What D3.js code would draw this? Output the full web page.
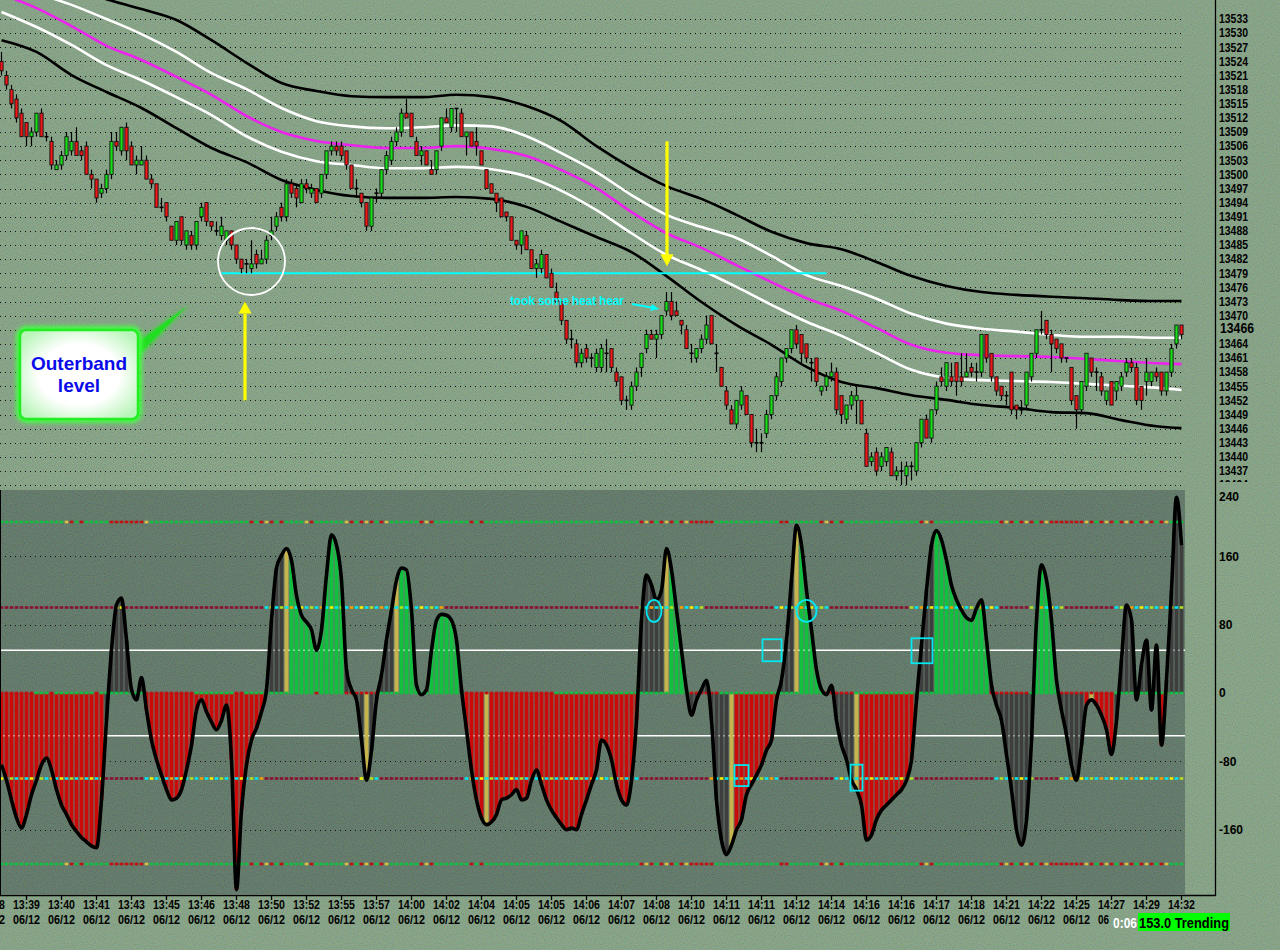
<!DOCTYPE html>
<html><head><meta charset="utf-8">
<script src="https://cdn.jsdelivr.net/npm/d3@7"></script>
<style>html,body{margin:0;padding:0;background:#7b9c7e;} svg{display:block}</style>
</head><body>
<svg id="chart" width="1280" height="950"></svg>
<script>
// ---------------- DATA ----------------
// candles: [open, high, low, close]
const candles = [
[13524,13526,13521,13522],[13521,13522,13518,13519],[13518,13519,13514,13515],[13516,13517,13511,13512],[13513,13514,13508,13508],
[13511,13511,13506,13508],[13508,13510,13506,13509],[13509,13513,13508,13513],[13513,13514,13508,13508],[13508,13509,13507,13508],
[13507,13508,13501,13502],[13501,13503,13501,13502],[13502,13505,13501,13504],[13504,13509,13503,13508],[13505,13509,13504,13507],
[13507,13510,13504,13504],[13505,13506,13503,13504],[13506,13507,13500,13500],[13500,13501,13497,13499],[13499,13499,13494,13495],
[13496,13498,13495,13497],[13497,13501,13496,13500],[13500,13509,13499,13507],[13507,13509,13505,13506],[13505,13510,13504,13510],
[13510,13511,13503,13505],[13506,13507,13502,13502],[13502,13504,13500,13503],[13502,13506,13502,13503],[13503,13504,13499,13499],
[13499,13500,13497,13498],[13498,13498,13493,13493],[13493,13495,13492,13493],[13494,13494,13490,13491],[13489,13489,13486,13486],
[13486,13490,13485,13490],[13491,13491,13485,13486],[13485,13488,13484,13488],[13487,13488,13484,13485],[13485,13490,13484,13490],
[13491,13494,13490,13493],[13494,13494,13489,13490],[13490,13490,13488,13489],[13488,13490,13487,13488],[13487,13491,13486,13489],
[13486,13488,13485,13488],[13488,13488,13484,13485],[13485,13485,13481,13482],[13482,13482,13479,13480],[13481,13482,13479,13481],
[13480,13486,13479,13481],[13483,13484,13480,13481],[13481,13484,13481,13482],[13482,13487,13481,13486],[13487,13491,13486,13488],
[13489,13492,13488,13491],[13493,13494,13490,13491],[13491,13499,13490,13498],[13498,13499,13495,13496],[13497,13498,13493,13495],
[13494,13499,13494,13498],[13498,13499,13496,13497],[13496,13498,13495,13497],[13497,13497,13494,13494],[13496,13500,13495,13500],
[13500,13505,13499,13505],[13505,13507,13504,13506],[13506,13507,13504,13505],[13506,13507,13503,13504],[13505,13505,13501,13502],
[13502,13502,13497,13497],[13497,13499,13495,13497],[13496,13496,13493,13494],[13494,13494,13488,13489],[13489,13495,13488,13495],
[13496,13497,13494,13496],[13496,13501,13495,13501],[13501,13505,13500,13504],[13503,13508,13502,13507],[13507,13510,13506,13509],
[13509,13514,13508,13513],[13513,13516,13512,13512],[13513,13513,13508,13508],[13507,13508,13504,13504],[13504,13506,13502,13505],
[13505,13505,13502,13502],[13501,13503,13500,13500],[13501,13505,13500,13505],[13506,13512,13505,13512],[13512,13514,13511,13511],
[13510,13514,13509,13514],[13514,13514,13509,13514],[13513,13514,13508,13508],[13508,13509,13504,13509],[13509,13509,13506,13506],
[13507,13510,13504,13506],[13505,13505,13502,13502],[13501,13501,13497,13497],[13498,13498,13496,13496],[13496,13496,13492,13494],
[13495,13495,13491,13491],[13492,13492,13490,13491],[13491,13491,13486,13486],[13486,13486,13484,13485],[13485,13488,13483,13488],
[13487,13488,13484,13484],[13484,13484,13480,13480],[13480,13482,13478,13481],[13480,13484,13479,13483],[13483,13483,13478,13478],
[13479,13480,13476,13476],[13475,13477,13473,13473],[13473,13473,13468,13469],[13469,13469,13464,13465],[13465,13467,13463,13465],
[13464,13465,13459,13460],[13460,13463,13459,13462],[13463,13464,13460,13461],[13461,13462,13459,13461],[13459,13463,13458,13462],
[13459,13464,13458,13463],[13462,13465,13458,13462],[13463,13463,13458,13459],[13458,13459,13455,13456],[13457,13457,13451,13452],
[13452,13453,13450,13452],[13451,13456,13450,13455],[13455,13459,13454,13458],[13459,13462,13457,13462],[13463,13467,13462,13466],
[13466,13467,13465,13465],[13465,13467,13461,13466],[13466,13470,13465,13470],[13471,13475,13470,13473],[13473,13475,13469,13470],
[13471,13473,13470,13470],[13469,13469,13466,13468],[13467,13468,13463,13463],[13462,13464,13460,13462],[13461,13463,13460,13463],
[13463,13466,13462,13465],[13465,13470,13464,13468],[13470,13470,13464,13464],[13462,13464,13458,13462],[13459,13459,13455,13455],
[13454,13455,13450,13451],[13450,13451,13447,13447],[13447,13452,13446,13452],[13451,13455,13450,13454],[13453,13453,13449,13449],
[13449,13449,13442,13443],[13443,13446,13441,13443],[13443,13445,13441,13443],[13445,13450,13444,13449],[13449,13453,13448,13453],
[13453,13458,13452,13457],[13456,13461,13455,13461],[13461,13463,13460,13463],[13463,13467,13462,13467],[13467,13468,13463,13464],
[13466,13466,13460,13462],[13464,13464,13460,13461],[13460,13461,13456,13460],[13461,13461,13455,13456],[13454,13455,13453,13455],
[13455,13458,13454,13457],[13457,13460,13456,13458],[13458,13459,13449,13450],[13453,13453,13447,13449],[13448,13451,13447,13451],
[13451,13454,13450,13453],[13452,13455,13447,13453],[13452,13452,13447,13447],[13445,13446,13438,13438],[13439,13441,13438,13440],
[13441,13442,13436,13437],[13438,13441,13437,13440],[13439,13442,13438,13442],[13441,13442,13436,13436],[13436,13438,13435,13437],
[13437,13439,13434,13437],[13436,13439,13434,13438],[13438,13439,13435,13438],[13437,13443,13436,13443],[13443,13448,13442,13448],
[13448,13449,13444,13444],[13444,13450,13443,13450],[13450,13456,13449,13455],[13457,13459,13455,13456],[13455,13460,13454,13460],
[13457,13460,13455,13456],[13460,13460,13453,13456],[13457,13462,13455,13456],[13457,13462,13457,13458],[13459,13460,13457,13458],
[13458,13460,13456,13458],[13458,13466,13457,13466],[13466,13466,13460,13461],[13462,13462,13456,13457],[13457,13457,13453,13454],
[13455,13455,13452,13453],[13453,13454,13451,13453],[13458,13458,13449,13450],[13451,13451,13448,13450],[13450,13452,13449,13450],
[13451,13458,13450,13458],[13457,13462,13456,13462],[13462,13467,13461,13467],[13467,13471,13466,13467],[13469,13469,13465,13466],
[13466,13467,13458,13464],[13465,13465,13462,13463],[13464,13464,13460,13461],[13461,13461,13460,13461],[13459,13459,13451,13452],
[13453,13453,13446,13450],[13450,13456,13449,13456],[13455,13462,13454,13462],[13461,13461,13457,13458],[13458,13459,13454,13458],
[13457,13458,13453,13454],[13452,13454,13451,13454],[13456,13456,13451,13451],[13454,13456,13452,13456],[13455,13458,13454,13457],
[13458,13461,13457,13460],[13460,13461,13458,13459],[13459,13460,13451,13452],[13455,13455,13450,13452],[13456,13461,13453,13458],
[13456,13458,13455,13458],[13458,13459,13456,13457],[13458,13458,13453,13454],[13454,13458,13453,13458],[13458,13464,13457,13463],
[13464,13468,13463,13468],[13468,13468,13465,13466]
];

// envelope bands sampled every 7 bars (plus last bar)
const bandBars = [0,7,14,21,28,35,42,49,56,63,70,77,84,91,98,105,112,119,126,133,140,147,154,161,168,175,182,189,196,203,210,217,224,231,236];
const upperOuter = [13545.5,13542.3,13539.6,13537.2,13535.1,13532.8,13528.5,13523.7,13519.4,13517.7,13516.6,13516.4,13516.4,13516.9,13516.4,13514.5,13511.3,13506.0,13501.4,13497.5,13494.8,13491.4,13487.8,13485.4,13484.1,13481.4,13478.4,13476.3,13475.0,13474.4,13474.0,13473.7,13473.3,13473.1,13473.1];
const upperInner = [13541.3,13538.5,13536.0,13533.0,13529.8,13526.0,13521.5,13518.1,13514.1,13511.3,13510.2,13509.8,13510.0,13510.4,13510.2,13508.1,13504.5,13500.5,13495.6,13491.4,13488.8,13486.5,13482.7,13478.6,13476.3,13473.6,13470.4,13468.3,13467.2,13466.6,13465.9,13465.5,13465.5,13465.3,13465.3];
const middleBand = [13538.3,13535.3,13531.5,13527.3,13524.3,13520.7,13516.9,13512.4,13509.0,13507.1,13506.2,13505.6,13505.6,13506.0,13505.4,13503.9,13500.9,13497.1,13492.0,13487.5,13484.4,13480.7,13477.1,13473.7,13471.0,13467.4,13463.8,13462.1,13461.6,13461.4,13461.2,13460.8,13460.3,13459.9,13459.7];
const lowerInner = [13534.5,13531.3,13527.5,13523.2,13520.0,13516.4,13512.6,13508.1,13504.8,13502.8,13502.0,13501.3,13501.3,13501.6,13501.1,13499.6,13496.5,13492.4,13487.5,13482.9,13479.7,13476.1,13472.3,13468.7,13465.7,13462.1,13458.5,13456.8,13456.3,13456.1,13455.9,13455.5,13455.1,13454.7,13454.2];
const lowerOuter = [13528.5,13526.0,13521.1,13517.5,13514.1,13509.8,13505.6,13502.6,13498.8,13496.7,13495.4,13495.0,13495.0,13495.2,13494.8,13493.1,13489.9,13486.7,13483.5,13478.4,13472.9,13468.0,13463.8,13459.1,13455.9,13454.6,13453.1,13452.1,13451.0,13450.4,13449.5,13449.3,13447.8,13446.5,13446.1];

// CCI oscillator, one value per bar
const cci = [
-84,-102,-125,-146,-158,-142,-119,-102,-84,-76,-90,-113,-131,-142,-154,-162,-169,-174,-179,-181,
-125,-32,50,103,111,62,4,-8,18,-20,-55,-78,-96,-113,-125,-123,-113,-90,-61,-20,
-8,-22,-34,-43,-32,-14,-78,-230,-137,-84,-55,-41,-22,4,85,146,161,169,155,114,
91,83,74,50,74,138,185,173,132,27,4,-8,-55,-102,-67,-8,21,62,97,132,
146,144,97,9,-2,4,50,85,92,91,85,62,4,-43,-90,-125,-146,-154,-151,-142,
-125,-123,-119,-113,-125,-123,-102,-90,-107,-125,-137,-146,-154,-160,-158,-160,-142,-125,-107,-90,
-55,-61,-78,-107,-125,-131,-102,-32,85,138,126,109,120,169,144,97,50,4,-26,-8,
4,15,-32,-125,-172,-189,-178,-160,-148,-119,-107,-96,-84,-67,-55,-8,15,62,132,196,
173,120,74,27,4,-2,9,-32,-61,-78,-102,-113,-131,-172,-166,-148,-137,-131,-125,-119,
-113,-102,-78,-8,56,120,173,190,179,155,126,109,97,88,85,99,109,62,9,-14,
-32,-72,-113,-160,-178,-148,-55,85,150,132,85,15,-20,-49,-84,-102,-61,-14,-8,-14,
-26,-43,-72,-32,39,103,85,-8,33,62,-20,56,-61,15,120,229,173
];
// histogram colour runs: r=red, g=green, k=grey, y=khaki
const histRuns = [[21,'r'],[8,'k'],[24,'r'],[4,'k'],[1,'y'],[11,'g'],[4,'k'],[1,'y'],[5,'k'],[1,'y'],[4,'g'],[2,'k'],[6,'g'],[1,'k'],[4,'r'],[1,'y'],[30,'r'],[5,'k'],[1,'y'],[4,'g'],[8,'k'],[1,'y'],[9,'r'],[3,'k'],[1,'y'],[5,'g'],[6,'k'],[1,'y'],[11,'r'],[4,'k'],[11,'g'],[9,'k'],[5,'g'],[5,'k'],[1,'r'],[1,'y'],[4,'r'],[9,'k'],[1,'r'],[4,'k']];
// +/-200 level marker runs: g=green, r=red, m=red/yellow mix, y=yellow
const lvl200Runs = [[13,'g'],[4,'m'],[5,'g'],[7,'r'],[1,'y'],[20,'g'],[7,'m'],[4,'g'],[3,'m'],[5,'g'],[9,'m'],[6,'g'],[4,'m'],[6,'g'],[3,'m'],[31,'g'],[10,'m'],[5,'r'],[13,'g'],[2,'r'],[5,'g'],[6,'m'],[15,'g'],[3,'m'],[12,'g'],[11,'m'],[7,'r'],[17,'m'],[3,'g']];
// +100 / -100 level marker runs: m=maroon, y=yellow, x=yellow/cyan mix
const lvl100Runs = [[23,'m'],[2,'y'],[28,'m'],[36,'x'],[39,'m'],[13,'x'],[14,'m'],[11,'x'],[16,'m'],[18,'x'],[6,'m'],[7,'x'],[10,'m'],[14,'x']];
const lvlM100Runs = [[21,'x'],[8,'m'],[24,'x'],[19,'m'],[4,'x'],[17,'m'],[35,'x'],[14,'m'],[14,'x'],[11,'m'],[16,'x'],[16,'m'],[8,'x'],[5,'m'],[25,'x']];
// zero line marker runs
const zeroRuns = [[7,'r'],[3,'g'],[1,'r'],[8,'g'],[1,'r'],[9,'g'],[10,'r'],[8,'g'],[2,'r'],[4,'g'],[10,'g'],[1,'r'],[5,'g'],[7,'r'],[17,'g'],[18,'r'],[17,'g'],[10,'g'],[6,'r'],[12,'g'],[9,'g'],[6,'r'],[12,'g'],[15,'g'],[8,'r'],[6,'g'],[11,'r'],[14,'g']];

// axis labels
const priceTicks = [13434,13437,13440,13443,13446,13449,13452,13455,13458,13461,13464,13470,13473,13476,13479,13482,13485,13488,13491,13494,13497,13500,13503,13506,13509,13512,13515,13518,13521,13524,13527,13530,13533];
const lastPriceLabel = "13466";
const cciTicks = [240,160,80,0,-80,-160];
const timeTickBars = [-2,5,12,19,26,33,40,47,54,61,68,75,82,89,96,103,110,117,124,131,138,145,152,159,166,173,180,187,194,201,208,215,222,229,236];
const timeLabels = ["13:38","13:39","13:40","13:41","13:43","13:45","13:46","13:48","13:50","13:52","13:55","13:57","14:00","14:02","14:04","14:05","14:05","14:06","14:07","14:08","14:10","14:11","14:11","14:12","14:14","14:16","14:16","14:17","14:18","14:21","14:22","14:25","14:27","14:29","14:32"];
// date row (the last ones are hidden behind the status readout)
const dateLabels = ["06/12","06/12","06/12","06/12","06/12","06/12","06/12","06/12","06/12","06/12","06/12","06/12","06/12","06/12","06/12","06/12","06/12","06/12","06/12","06/12","06/12","06/12","06/12","06/12","06/12","06/12","06/12","06/12","06/12","06/12","06/12","06/12","06","",""];
const supportLevel = 13479;     // cyan horizontal line
const supportFrom = 44, supportTo = 165;
const noteText = "took some heat hear";
const calloutLines = ["Outerband","level"];
const statusTime = "0:06";
const statusText = "153.0 Trending";

// ---------------- DRAW ----------------
const svg = d3.select("#chart");
const W = 1280, H = 950;
const FONT = "'Liberation Sans', Arial, sans-serif";
const expand = runs => runs.flatMap(([n,c]) => Array(n).fill(c));

const x = d3.scaleLinear().domain([0, 236]).range([1.5, 1181.5]);
const y = d3.scaleLinear().domain([13437, 13533]).range([471, 19]);
const yc = d3.scaleLinear().domain([-200, 200]).range([864, 522]);

const defs = svg.append("defs");
defs.append("clipPath").attr("id","clipTop").append("rect").attr("x",0).attr("y",0).attr("width",1186).attr("height",487);
defs.append("clipPath").attr("id","clipBot").append("rect").attr("x",0).attr("y",490).attr("width",1186).attr("height",404);
defs.append("clipPath").attr("id","clipAxis").append("rect").attr("x",1216).attr("y",0).attr("width",64).attr("height",482);
const grain = defs.append("filter").attr("id","grain").attr("x",0).attr("y",0).attr("width","100%").attr("height","100%");
grain.append("feTurbulence").attr("type","fractalNoise").attr("baseFrequency",0.9).attr("numOctaves",1).attr("seed",4);
grain.append("feColorMatrix").attr("type","matrix")
  .attr("values","1.3 0 0 0 -0.2  0 1.3 0 0 -0.15  0 0 1.3 0 -0.25  0 0 0 0 0.22");
const glow = defs.append("filter").attr("id","glow").attr("x","-20%").attr("y","-20%").attr("width","140%").attr("height","140%");
glow.append("feGaussianBlur").attr("stdDeviation",2.2);
const rg = defs.append("radialGradient").attr("id","boxFill").attr("cx","50%").attr("cy","50%").attr("r","62%");
rg.append("stop").attr("offset","55%").attr("stop-color","#ffffff");
rg.append("stop").attr("offset","100%").attr("stop-color","#b8f5b8");

// backgrounds
svg.append("rect").attr("width",W).attr("height",H).attr("fill","#7b9c7e");
svg.append("rect").attr("x",0).attr("y",490).attr("width",1185).attr("height",404).attr("fill","#4f695b");
svg.append("rect").attr("width",W).attr("height",H).attr("filter","url(#grain)");

// ---- upper panel ----
const upper = svg.append("g").attr("clip-path","url(#clipTop)");
upper.selectAll("line.grid").data(priceTicks.concat([13467])).join("line")
  .attr("x1",0).attr("x2",1185).attr("y1",d=>Math.round(y(d))+0.5).attr("y2",d=>Math.round(y(d))+0.5)
  .attr("stroke","#111").attr("stroke-width",1).attr("stroke-dasharray","1,4");

const bandLine = d3.line().x((d,i)=>x(bandBars[i])).y(d=>y(d)).curve(d3.curveMonotoneX);
[[upperOuter,"#000"],[lowerOuter,"#000"],[upperInner,"#fff"],[lowerInner,"#fff"],[middleBand,"#ee22ee"]].forEach(([arr,col])=>{
  upper.append("path").attr("d",bandLine(arr)).attr("fill","none").attr("stroke",col).attr("stroke-width",2.6);
});

// support line
upper.append("line").attr("x1",x(supportFrom)).attr("x2",x(supportTo)).attr("y1",y(supportLevel)).attr("y2",y(supportLevel))
  .attr("stroke","#00ffff").attr("stroke-width",2);

// candles
const cg = upper.append("g");
candles.forEach((d,i)=>{
  const [o,h,l,c] = d, cx = x(i);
  cg.append("line").attr("x1",cx).attr("x2",cx).attr("y1",y(h)).attr("y2",y(l)).attr("stroke","#000").attr("stroke-width",1.2);
  if (o === c) {
    cg.append("rect").attr("x",cx-2).attr("y",y(c)-0.8).attr("width",4).attr("height",1.6).attr("fill","#000");
  } else {
    const t = y(Math.max(o,c)), b = y(Math.min(o,c));
    cg.append("rect").attr("x",cx-1.6).attr("y",t).attr("width",3.2).attr("height",Math.max(1.5,b-t))
      .attr("fill", c>o ? "#18e018" : "#f01818").attr("stroke","#111").attr("stroke-width",0.9);
  }
});

// circle annotation
upper.append("circle").attr("cx",x(50)).attr("cy",y(13481.5)).attr("r",33.5).attr("fill","none").attr("stroke","#fff").attr("stroke-width",1.8);

// arrows
function arrow(g, x1, y1, x2, y2, col, w, hl, hw){
  const ang = Math.atan2(y2-y1, x2-x1);
  const bx = x2 - hl*Math.cos(ang), by = y2 - hl*Math.sin(ang);
  g.append("line").attr("x1",x1).attr("y1",y1).attr("x2",bx).attr("y2",by).attr("stroke",col).attr("stroke-width",w);
  const px = -Math.sin(ang)*hw/2, py = Math.cos(ang)*hw/2;
  g.append("path").attr("d",`M${x2},${y2}L${bx+px},${by+py}L${bx-px},${by-py}Z`).attr("fill",col);
}
arrow(upper, x(48.7), y(13452), x(48.7), y(13473), "#ffff00", 3.2, 12, 13);
arrow(upper, x(133.1), y(13507), x(133.1), y(13480.5), "#ffff00", 3.2, 12, 13);

// callout pointer + box
upper.append("path").attr("d","M136,342 L189,305 L137,359 Z").attr("fill","#33dd33").attr("filter","url(#glow)");
upper.append("path").attr("d","M136,344 L187,306 L137,356 Z").attr("fill","#22dd22");
upper.append("rect").attr("x",19).attr("y",329).attr("width",120).attr("height",91).attr("rx",7)
  .attr("fill","none").attr("stroke","#44ff44").attr("stroke-width",6).attr("filter","url(#glow)");
upper.append("rect").attr("x",20).attr("y",330).attr("width",118).attr("height",89).attr("rx",6)
  .attr("fill","url(#boxFill)").attr("stroke","#22ee22").attr("stroke-width",2.5);
calloutLines.forEach((t,k)=>{
  upper.append("text").attr("x",79).attr("y",370+k*22).attr("text-anchor","middle")
    .attr("font-family",FONT).attr("font-weight","bold").attr("font-size",19).attr("fill","#0a0ae8").text(t);
});

// cyan note
upper.append("text").attr("x",510).attr("y",305).attr("font-family",FONT).attr("font-weight","bold").attr("font-size",12)
  .attr("textLength",114).attr("fill","#00ffff").text(noteText);
arrow(upper, 632, 304, x(131.5), 309, "#00ffff", 2, 8, 7);

// ---- lower panel ----
const bot = svg.append("g").attr("clip-path","url(#clipBot)");
[160,80,-80,-160].forEach(v=>{
  bot.append("line").attr("x1",0).attr("x2",1185).attr("y1",Math.round(yc(v))+0.5).attr("y2",Math.round(yc(v))+0.5)
    .attr("stroke","#111").attr("stroke-width",1).attr("stroke-dasharray","1,4");
});
[50,-50].forEach(v=>{
  bot.append("line").attr("x1",0).attr("x2",1185).attr("y1",yc(v)).attr("y2",yc(v)).attr("stroke","#fff").attr("stroke-width",1.5);
});

const histCols = expand(histRuns);
const hcol = {r:"#cc0a0a", g:"#12c040", k:"#3e3e3e", y:"#c8b44c"};
bot.selectAll("rect.h").data(cci).join("rect")
  .attr("x",(d,i)=>x(i)-2).attr("width",4)
  .attr("y",d=>Math.min(yc(0),yc(d))).attr("height",d=>Math.abs(yc(d)-yc(0)))
  .attr("fill",(d,i)=>hcol[histCols[i]]);

// level markers
function markers(runs, level, palette){
  const cols = expand(runs);
  cols.forEach((c,i)=>{
    let col = palette[c];
    if (Array.isArray(col)) col = col[i % col.length];
    bot.append("rect").attr("x",x(i)-1.8).attr("y",yc(level)-1.3).attr("width",3.6).attr("height",2.6).attr("fill",col);
  });
}
const p200 = {g:"#10c040", r:"#c01010", y:"#d8c040", m:["#c01010","#d8c040","#c01010","#10c040"]};
const p100 = {m:"#8a1030", y:"#f0f000", x:["#f0f000","#00e8f0","#b0e020","#00e8f0","#f0a000","#00e8f0"]};
markers(lvl200Runs, 200, p200);
markers(lvl200Runs, -200, p200);
markers(lvl100Runs, 100, p100);
markers(lvlM100Runs, -100, p100);
markers(zeroRuns, 0, {g:"#10c040", r:"#c01010"});

// CCI line
bot.append("path").attr("d", d3.line().x((d,i)=>x(i)).y(d=>yc(d)).curve(d3.curveMonotoneX)(cci))
  .attr("fill","none").attr("stroke","#000").attr("stroke-width",3.6).attr("stroke-linejoin","round");

// cyan markers in lower panel
const cm = bot.append("g").attr("fill","none").attr("stroke","#00e8f0").attr("stroke-width",1.8);
cm.append("ellipse").attr("cx",x(130.5)).attr("cy",yc(96)).attr("rx",7.5).attr("ry",11);
cm.append("ellipse").attr("cx",x(161)).attr("cy",yc(96)).attr("rx",10).attr("ry",11);
cm.append("rect").attr("x",x(154)-9).attr("y",yc(50)-11).attr("width",19).attr("height",22);
cm.append("rect").attr("x",x(184)-10).attr("y",yc(50)-12).attr("width",21).attr("height",25);
cm.append("rect").attr("x",x(148)-7).attr("y",yc(-96)-10).attr("width",14).attr("height",21);
cm.append("rect").attr("x",x(171)-6).attr("y",yc(-99)-13).attr("width",12).attr("height",26);

// ---- axes ----
svg.append("line").attr("x1",1215.5).attr("x2",1215.5).attr("y1",0).attr("y2",896).attr("stroke","#000").attr("stroke-width",1.3);
svg.append("line").attr("x1",0).attr("x2",1215.5).attr("y1",895.5).attr("y2",895.5).attr("stroke","#000").attr("stroke-width",1.3);
svg.append("line").attr("x1",0.5).attr("x2",0.5).attr("y1",490).attr("y2",896).attr("stroke","#000").attr("stroke-width",1);

const ax = svg.append("g").attr("clip-path","url(#clipAxis)");
priceTicks.forEach(v=>{
  ax.append("text").attr("x",1219).attr("y",y(v)).attr("dy","0.36em").attr("font-family",FONT).attr("font-weight","bold")
    .attr("font-size",12).attr("textLength",29).attr("lengthAdjust","spacingAndGlyphs").attr("fill","#000").text(v);
});
const last = candles[candles.length-1];
svg.append("text").attr("x",1220).attr("y",y(last[1]) + 3).attr("dy","0.36em").attr("font-family",FONT)
  .attr("font-weight","bold").attr("font-size",15).attr("textLength",34).attr("lengthAdjust","spacingAndGlyphs").attr("fill","#000").text(lastPriceLabel);
cciTicks.forEach(v=>{
  svg.append("text").attr("x",1219).attr("y",Math.max(497, yc(v))).attr("dy","0.36em").attr("font-family",FONT).attr("font-weight","bold")
    .attr("font-size",12).attr("fill","#000").text(v);
});

timeTickBars.forEach((b,k)=>{
  const tx = x(b);
  svg.append("line").attr("x1",tx).attr("x2",tx).attr("y1",896).attr("y2",900).attr("stroke","#000").attr("stroke-width",1.3);
  svg.append("text").attr("x",tx - 13.5).attr("y",908.5).attr("font-family",FONT).attr("font-weight","bold")
    .attr("font-size",12.5).attr("textLength",27).attr("lengthAdjust","spacingAndGlyphs").attr("fill","#000").text(timeLabels[k]);
  const dl = dateLabels[k];
  if (dl) {
    svg.append("text").attr("x",tx - 13.5).attr("y",923.5).attr("font-family",FONT).attr("font-weight","bold")
      .attr("font-size",12.5).attr("textLength", dl.length === 5 ? 27 : 11).attr("lengthAdjust","spacingAndGlyphs")
      .attr("fill","#000").text(dl);
  }
});

// status
svg.append("text").attr("x",1113).attr("y",927.5).attr("font-family",FONT).attr("font-weight","bold").attr("font-size",15)
  .attr("textLength",24).attr("lengthAdjust","spacingAndGlyphs").attr("fill","#fff").text(statusTime);
svg.append("rect").attr("x",1138).attr("y",913).attr("width",92).attr("height",18).attr("fill","#00ff00");
svg.append("text").attr("x",1139).attr("y",927.5).attr("font-family",FONT).attr("font-weight","bold").attr("font-size",15)
  .attr("textLength",90).attr("lengthAdjust","spacingAndGlyphs").attr("fill","#000").text(statusText);
</script>
</body></html>
